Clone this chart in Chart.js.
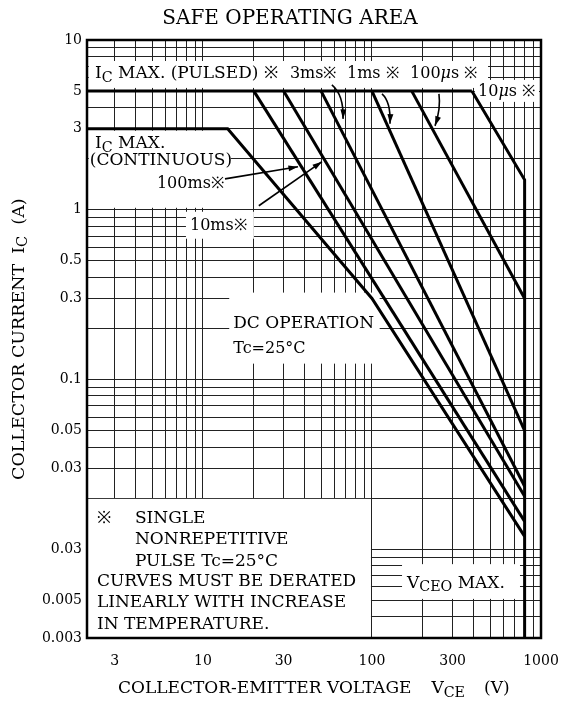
<!DOCTYPE html>
<html>
<head>
<meta charset="utf-8">
<script src="https://cdn.jsdelivr.net/npm/chart.js@4.4.1/dist/chart.umd.min.js"></script>
<style>
  html, body { margin: 0; padding: 0; background: #fff; }
  #grafico { display: block; }
</style>
</head>
<body>
<canvas id="grafico" width="561" height="705"></canvas>
<script>
// curvas da area de operacao segura - VCE (V) e IC (A)
const vPulsado = [2.06, 390];
const iPulsado = [5, 5];
const vDC = [2.06, 14, 100, 800];
const iDC = [3, 3, 0.3, 0.0119];
const v100ms = [20, 800];
const i100ms = [5, 0.0146];
const v10ms = [30, 800];
const i10ms = [5, 0.0205];
const v3ms = [50, 800];
const i3ms = [5, 0.0235];
const v1ms = [100, 800];
const i1ms = [5, 0.05];
const v100us = [172, 800];
const i100us = [5, 0.3];
const v10us = [390, 800, 800];
const i10us = [5, 1.5, 0.003];

// rotulos dos eixos (o 0.01 aparece como "0.03" no original)
const ticksX = [3, 10, 30, 100, 300, 1000];
const ticksY = [10, 5, 3, 1, 0.5, 0.3, 0.1, 0.05, 0.03, 0.01, 0.005, 0.003];
const rotulosY = ['10', '5', '3', '1', '0.5', '0.3', '0.1', '0.05', '0.03', '0.03', '0.005', '0.003'];

const FONTE = '"DejaVu Serif", "Liberation Serif", serif';

// linhas de grade 1..9 x 10^k dentro do intervalo
function gerarGrade(min, max) {
    let valores = [];
    for (let e = -3; e <= 3; e++) {
        for (let m = 1; m <= 9; m++) {
            let v = parseFloat((m * Math.pow(10, e)).toPrecision(6));
            if (v >= min * 0.9999 && v <= max * 1.0001) valores.push(v);
        }
    }
    return valores;
}

function serie(vs, is) {
    return vs.map((v, k) => ({ x: v, y: is[k] }));
}

// caixas brancas que escondem a grade atras dos textos [v1, v2, i1, i2]
const caixas = [
    [2.11, 486, 7.52, 5.22],
    [406, 973, 5.82, 4.32],
    [2.11, 14.6, 2.92, 1.027],
    [7.93, 20.0, 0.973, 0.675],
    [14.3, 111, 0.325, 0.124],
    [2.08, 98.6, 0.0198, 0.003],
    [150.6, 751, 0.00817, 0.0051]
];

// textos posicionados em coordenadas de dados
const textos = [
    { v: 2.30, i: 6.31, partes: [{ t: 'I' }, { t: 'C', sub: true }, { t: ' MAX. (PULSED) ※' }] },
    { v: 32.7, i: 6.31, tam: 16, partes: [{ t: '3ms※' }] },
    { v: 71.1, i: 6.31, tam: 16, partes: [{ t: '1ms ※' }] },
    { v: 168, i: 6.31, tam: 16, partes: [{ t: '100' }, { t: 'μ', italic: true }, { t: 's ※' }] },
    { v: 424, i: 4.94, tam: 16, partes: [{ t: '10' }, { t: 'μ', italic: true }, { t: 's ※' }] },
    { v: 2.30, i: 2.44, partes: [{ t: 'I' }, { t: 'C', sub: true }, { t: ' MAX.' }] },
    { v: 2.14, i: 1.94, partes: [{ t: '(CONTINUOUS)' }] },
    { v: 5.34, i: 1.42, tam: 16, partes: [{ t: '100ms※' }] },
    { v: 8.38, i: 0.805, tam: 16, partes: [{ t: '10ms※' }] },
    { v: 15.1, i: 0.213, partes: [{ t: 'DC OPERATION' }] },
    { v: 15.1, i: 0.152, tam: 16, partes: [{ t: 'Tc=25°C' }] },
    { v: 2.36, i: 0.0152, partes: [{ t: '※' }] },
    { v: 3.96, i: 0.0152, partes: [{ t: 'SINGLE' }] },
    { v: 3.96, i: 0.01145, partes: [{ t: 'NONREPETITIVE' }] },
    { v: 3.96, i: 0.0085, partes: [{ t: 'PULSE Tc=25°C' }] },
    { v: 2.36, i: 0.00648, partes: [{ t: 'CURVES MUST BE DERATED' }] },
    { v: 2.36, i: 0.00488, partes: [{ t: 'LINEARLY WITH INCREASE' }] },
    { v: 2.36, i: 0.00362, partes: [{ t: 'IN TEMPERATURE.' }] },
    { v: 161, i: 0.0063, partes: [{ t: 'V' }, { t: 'CEO', sub: true }, { t: ' MAX.' }] }
];

// setas: inicio, controle (opcional), ponta
const setas = [
    [[57.9, 5.44], [68.2, 4.75], [67.4, 3.43]],
    [[114.6, 4.81], [129.5, 4.32], [127.8, 3.21]],
    [[249, 4.81], [256, 3.93], [236, 3.12]],
    [[13.5, 1.52], null, [36.5, 1.79]],
    [[21.4, 1.056], null, [50.6, 1.92]]
];

function escreverRico(ctx, partes, x, y, tam) {
    let cx = x;
    partes.forEach(p => {
        if (p.gap) { cx += p.gap; return; }
        let t = p.sub ? tam * 0.84 : tam;
        ctx.font = (p.italic ? 'italic ' : '') + t + 'px ' + FONTE;
        ctx.fillText(p.t, cx, y + (p.sub ? tam * 0.26 : 0));
        cx += ctx.measureText(p.t).width;
    });
    return cx;
}

const anotacoes = {
    id: 'anotacoes',
    beforeDatasetsDraw(chart) {
        const ctx = chart.ctx, sx = chart.scales.x, sy = chart.scales.y;
        ctx.save();
        ctx.fillStyle = '#fff';
        caixas.forEach(c => {
            let x1 = sx.getPixelForValue(c[0]), x2 = sx.getPixelForValue(c[1]);
            let y1 = sy.getPixelForValue(c[2]), y2 = sy.getPixelForValue(c[3]);
            ctx.fillRect(x1, y1, x2 - x1, y2 - y1);
        });
        ctx.restore();
    },
    afterDatasetsDraw(chart) {
        const ctx = chart.ctx, sx = chart.scales.x, sy = chart.scales.y;
        const area = chart.chartArea;
        ctx.save();
        ctx.fillStyle = '#000';
        ctx.textBaseline = 'middle';
        ctx.textAlign = 'left';
        textos.forEach(tx => {
            escreverRico(ctx, tx.partes, sx.getPixelForValue(tx.v), sy.getPixelForValue(tx.i), tx.tam || 17);
        });

        // setas
        ctx.strokeStyle = '#000';
        ctx.lineWidth = 1.6;
        setas.forEach(s => {
            let p0 = [sx.getPixelForValue(s[0][0]), sy.getPixelForValue(s[0][1])];
            let p2 = [sx.getPixelForValue(s[2][0]), sy.getPixelForValue(s[2][1])];
            let dir;
            ctx.beginPath();
            ctx.moveTo(p0[0], p0[1]);
            if (s[1]) {
                let p1 = [sx.getPixelForValue(s[1][0]), sy.getPixelForValue(s[1][1])];
                ctx.quadraticCurveTo(p1[0], p1[1], p2[0], p2[1]);
                dir = Math.atan2(p2[1] - p1[1], p2[0] - p1[0]);
            } else {
                ctx.lineTo(p2[0], p2[1]);
                dir = Math.atan2(p2[1] - p0[1], p2[0] - p0[0]);
            }
            ctx.stroke();
            ctx.beginPath();
            ctx.moveTo(p2[0], p2[1]);
            ctx.lineTo(p2[0] - 10 * Math.cos(dir - 0.3), p2[1] - 10 * Math.sin(dir - 0.3));
            ctx.lineTo(p2[0] - 10 * Math.cos(dir + 0.3), p2[1] - 10 * Math.sin(dir + 0.3));
            ctx.closePath();
            ctx.fill();
        });

        // moldura
        ctx.lineWidth = 2.5;
        ctx.strokeRect(area.left, area.top, area.right - area.left, area.bottom - area.top);
        ctx.restore();
    },
    afterDraw(chart) {
        const ctx = chart.ctx, area = chart.chartArea;
        ctx.save();
        ctx.fillStyle = '#000';
        ctx.textBaseline = 'middle';

        // titulo
        ctx.textAlign = 'center';
        ctx.font = '20px ' + FONTE;
        ctx.fillText('SAFE OPERATING AREA', 290, 19);

        // titulo do eixo x
        ctx.textAlign = 'left';
        escreverRico(ctx, [{ t: 'COLLECTOR-EMITTER VOLTAGE' }, { gap: 20 }, { t: 'V' }, { t: 'CE', sub: true }, { gap: 19 }, { t: '(V)' }],
            area.left + 31, area.bottom + 51, 17);

        // titulo do eixo y
        ctx.translate(19, area.bottom - 158);
        ctx.rotate(-Math.PI / 2);
        escreverRico(ctx, [{ t: 'COLLECTOR CURRENT' }, { gap: 10 }, { t: 'I' }, { t: 'C', sub: true }, { gap: 11 }, { t: '(A)' }], 0, 0, 17.5);
        ctx.restore();
    }
};

const linha = { borderColor: '#000', borderWidth: 3, pointRadius: 0, tension: 0, fill: false };

const dados = {
    datasets: [
        { label: 'IC MAX. (PULSED)', data: serie(vPulsado, iPulsado), ...linha },
        { label: 'DC OPERATION', data: serie(vDC, iDC), ...linha },
        { label: '100ms', data: serie(v100ms, i100ms), ...linha },
        { label: '10ms', data: serie(v10ms, i10ms), ...linha },
        { label: '3ms', data: serie(v3ms, i3ms), ...linha },
        { label: '1ms', data: serie(v1ms, i1ms), ...linha },
        { label: '100μs', data: serie(v100us, i100us), ...linha },
        { label: '10μs', data: serie(v10us, i10us), ...linha }
    ]
};

const gradeX = gerarGrade(2.06, 1000);
const gradeY = gerarGrade(0.003, 10);

const config = {
    type: 'line',
    data: dados,
    options: {
        responsive: false,
        animation: false,
        devicePixelRatio: 1,
        layout: { padding: { top: 40, right: 20, left: 0, bottom: 0 } },
        plugins: { legend: { display: false }, tooltip: { enabled: false }, title: { display: false } },
        scales: {
            x: {
                type: 'logarithmic',
                min: 2.06,
                max: 1000,
                afterBuildTicks: (escala) => { escala.ticks = gradeX.map(v => ({ value: v })); },
                afterFit: (escala) => {
                    escala.height = 67;
                    escala.paddingLeft = 0;
                    escala.paddingRight = 0;
                },
                grid: { color: '#222', lineWidth: 1, drawTicks: false },
                border: { display: false },
                ticks: {
                    autoSkip: false,
                    maxRotation: 0,
                    padding: 15,
                    color: '#000',
                    font: { family: FONTE, size: 14 },
                    callback: (valor) => ticksX.includes(valor) ? String(valor) : ''
                }
            },
            y: {
                type: 'logarithmic',
                min: 0.003,
                max: 10,
                afterBuildTicks: (escala) => { escala.ticks = gradeY.map(v => ({ value: v })); },
                afterFit: (escala) => {
                    escala.width = 87;
                    escala.paddingTop = 0;
                    escala.paddingBottom = 0;
                },
                grid: { color: '#222', lineWidth: 1, drawTicks: false },
                border: { display: false },
                ticks: {
                    autoSkip: false,
                    padding: 5,
                    color: '#000',
                    font: { family: FONTE, size: 14 },
                    callback: (valor) => {
                        let k = ticksY.findIndex(t => Math.abs(t - valor) / valor < 1e-6);
                        return k >= 0 ? rotulosY[k] : '';
                    }
                }
            }
        }
    },
    plugins: [anotacoes]
};

let grafico = new Chart(document.getElementById('grafico'), config);
</script>
</body>
</html>
